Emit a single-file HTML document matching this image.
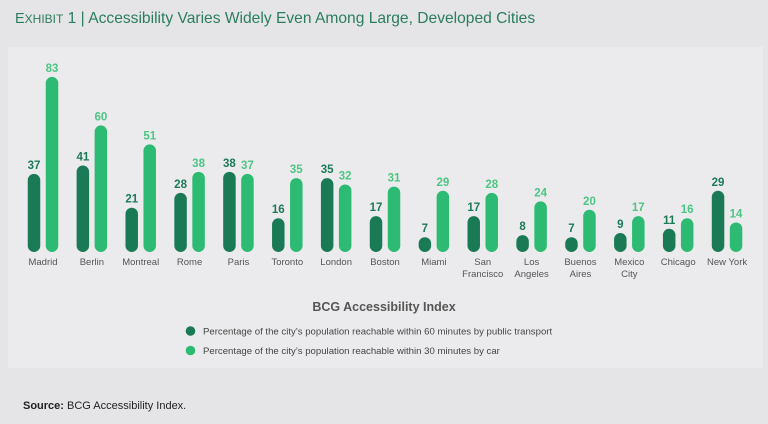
<!DOCTYPE html>
<html><head><meta charset="utf-8"><style>
html,body{margin:0;padding:0;width:768px;height:424px;background:#e5e5e7;overflow:hidden;font-family:"Liberation Sans",sans-serif}
#title{position:absolute;left:15px;top:10px;font-size:15.6px;color:#2a7d5d;white-space:nowrap}
#panel{position:absolute;left:8px;top:47px;width:755px;height:321px;background:#ebebed}
#src{position:absolute;left:23px;top:400px;font-size:11px;color:#222}
</style></head><body>
<div id="title"><span style="font-size:14.5px">E</span><span style="font-size:12px">XHIBIT</span> 1 | Accessibility Varies Widely Even Among Large, Developed Cities</div>
<div id="panel"></div>
<svg id="chart" width="768" height="424" style="position:absolute;left:0;top:0"></svg>
<div id="src"><b>Source:</b> BCG Accessibility Index.</div>
<script>
const cities=[["Madrid"],["Berlin"],["Montreal"],["Rome"],["Paris"],["Toronto"],["London"],["Boston"],["Miami"],["San","Francisco"],["Los","Angeles"],["Buenos","Aires"],["Mexico","City"],["Chicago"],["New York"]];
const transit=[37,41,21,28,38,16,35,17,7,17,8,7,9,11,29];
const car=[83,60,51,38,37,35,32,31,29,28,24,20,17,16,14];
const legendLabels=["Percentage of the city’s population reachable within 60 minutes by public transport","Percentage of the city’s population reachable within 30 minutes by car"];
const DARK="#1b7a56",LIGHT="#2dbb73";
const svg=document.getElementById('chart');const NS="http://www.w3.org/2000/svg";
const base=252,k=2.11,x0=43,step=48.86,bw=12.5,off=9;
const y=v=>base-v*k;
function el(t,a,txt){const e=document.createElementNS(NS,t);for(const n in a)e.setAttribute(n,a[n]);if(txt!=null)e.textContent=txt;svg.appendChild(e);return e;}
cities.forEach((c,i)=>{
  const cx=x0+i*step;
  [[transit[i],-off,DARK,'transit'],[car[i],off,LIGHT,'car']].forEach(([v,o,col,s])=>{
    const h=Math.max(base-y(v),bw);
    const r=el('rect',{x:cx+o-bw/2,y:base-h,width:bw,height:h,rx:bw/2,fill:col});
    
    
    const t=el('text',{x:cx+o,y:base-h-5,'text-anchor':'middle','font-size':11.5,'font-weight':'bold',fill:s==='car'?'#4cc585':DARK},v);
    
    
  });
  c.forEach((ln,j)=>{
    const t=el('text',{x:cx,y:265+j*12,'text-anchor':'middle','font-size':9.5,fill:'#555'},ln);
    
    
  });
});
const lt=el('text',{x:384,y:311,'text-anchor':'middle','font-size':12.5,'font-weight':'bold',fill:'#555'},'BCG Accessibility Index');


legendLabels.forEach((l,i)=>{
  const c=el('circle',{cx:190.5,cy:331+i*19.5,r:4.8,fill:i?LIGHT:DARK});
  
  
  const t=el('text',{x:203,y:334.5+i*19.5,'font-size':9.6,fill:'#444'},l);
  
  
});
</script>
</body></html>
